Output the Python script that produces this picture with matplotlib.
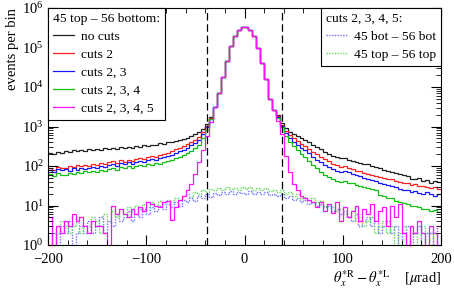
import numpy as np
import matplotlib
matplotlib.use("Agg")
import matplotlib.pyplot as plt
from matplotlib.ticker import MultipleLocator, LogLocator, NullFormatter

plt.rcParams['font.family'] = ['Liberation Serif', 'DejaVu Serif']
plt.rcParams['mathtext.fontset'] = 'stix'
plt.rcParams['font.size'] = 10

E = -np.inf  # empty bin (log10 of zero)

# bin edges (µrad); values below are log10(events per bin)
bin_edges = np.arange(-200, 201, 4)
cut_limit = 38

# shared core of the peak, bin centres -30 ... 30
peak = [3.50, 3.85, 4.25, 4.65, 5.03, 5.30, 5.45, 5.52,
        5.52, 5.45, 5.28, 5.00, 4.60, 4.20, 3.70, 3.42]

# left tails, bin centres -198 ... -34
black_left = [2.33, 2.30, 2.36, 2.34, 2.38, 2.35, 2.40, 2.37, 2.41, 2.38,
              2.42, 2.40, 2.43, 2.41, 2.45, 2.42, 2.46, 2.44, 2.47, 2.46,
              2.48, 2.46, 2.50, 2.49, 2.52, 2.51, 2.54, 2.53, 2.57, 2.56,
              2.60, 2.62, 2.64, 2.66, 2.69, 2.72, 2.76, 2.80, 2.86, 2.94,
              3.07, 3.25]
red_left = [1.95, 1.90, 1.98, 1.94, 1.96, 2.00, 1.97, 2.02, 1.99, 2.03,
            2.01, 2.05, 2.02, 2.07, 2.04, 2.09, 2.12, 2.08, 2.14, 2.11,
            2.16, 2.13, 2.18, 2.20, 2.17, 2.22, 2.25, 2.23, 2.28, 2.30,
            2.34, 2.38, 2.42, 2.46, 2.50, 2.55, 2.60, 2.66, 2.74, 2.85,
            3.02, 3.22]
blue_left = [1.90, 1.86, 1.93, 1.89, 1.92, 1.88, 1.94, 1.91, 1.96, 1.93,
             1.95, 1.98, 1.96, 2.00, 1.98, 2.02, 2.05, 2.01, 2.07, 2.04,
             2.09, 2.06, 2.11, 2.13, 2.10, 2.15, 2.18, 2.16, 2.20, 2.23,
             2.26, 2.29, 2.33, 2.37, 2.41, 2.46, 2.52, 2.58, 2.66, 2.80,
             2.98, 3.20]
green_left = [1.80, 1.75, 1.82, 1.78, 1.77, 1.83, 1.80, 1.85, 1.82, 1.87,
              1.84, 1.88, 1.86, 1.90, 1.88, 1.93, 1.95, 1.91, 1.97, 1.94,
              1.99, 1.96, 2.01, 2.03, 2.00, 2.05, 2.03, 2.08, 2.06, 2.10,
              2.13, 2.16, 2.20, 2.24, 2.28, 2.33, 2.39, 2.45, 2.54, 2.70,
              2.92, 3.18]
magenta_left = [0.70, E, 0.48, 0.30, 0.60, 0.48, 0.78, 0.60, 0.70, 0.48,
                0.30, 0.60, 0.48, 0.48, 0.30, E, 1.00, 0.78, 0.90, 0.78,
                0.70, 0.90, 0.78, 0.95, 0.85, 1.10, 1.05, 1.00, 0.95, 1.08,
                1.12, 0.63, 0.95, 1.14, 1.25, 1.38, 1.55, 1.80, 2.10, 2.40,
                2.75, 3.12]

# right tails, bin centres 34 ... 198
black_right = [3.28, 3.08, 2.95, 2.87, 2.80, 2.75, 2.70, 2.66, 2.60, 2.53,
               2.47, 2.42, 2.36, 2.30, 2.26, 2.24, 2.20, 2.19, 2.15, 2.13,
               2.10, 2.08, 2.04, 2.05, 2.00, 1.97, 1.95, 1.90, 1.88, 1.86,
               1.82, 1.80, 1.76, 1.75, 1.68, 1.66, 1.70, 1.62, 1.65, 1.58,
               1.63, 1.60]
red_right = [3.26, 3.04, 2.88, 2.78, 2.70, 2.63, 2.56, 2.50, 2.43, 2.36,
             2.30, 2.24, 2.18, 2.12, 2.06, 2.02, 1.98, 1.99, 1.95, 1.92,
             1.88, 1.87, 1.83, 1.80, 1.78, 1.74, 1.73, 1.70, 1.68, 1.66,
             1.62, 1.60, 1.58, 1.56, 1.52, 1.54, 1.49, 1.50, 1.46, 1.44,
             1.47, 1.43]
blue_right = [3.25, 3.02, 2.84, 2.72, 2.62, 2.54, 2.46, 2.40, 2.32, 2.24,
              2.16, 2.10, 2.03, 1.97, 1.92, 1.88, 1.86, 1.87, 1.84, 1.80,
              1.76, 1.74, 1.70, 1.68, 1.65, 1.62, 1.58, 1.55, 1.52, 1.50,
              1.46, 1.43, 1.40, 1.38, 1.35, 1.37, 1.32, 1.30, 1.33, 1.28,
              1.25, 1.28]
green_right = [3.22, 2.98, 2.76, 2.62, 2.50, 2.40, 2.30, 2.22, 2.12, 2.02,
               1.94, 1.86, 1.78, 1.72, 1.66, 1.62, 1.60, 1.62, 1.58, 1.56,
               1.52, 1.50, 1.47, 1.44, 1.42, 1.38, 1.27, 1.25, 1.20, 1.18,
               1.12, 1.10, 1.06, 1.05, 1.00, 0.98, 0.95, 0.92, 0.90, 0.85,
               0.88, 0.84]
magenta_right = [3.15, 2.80, 2.25, 1.85, 1.55, 1.38, 1.25, 1.18, 1.14, 1.10,
                 0.95, 1.08, 0.85, 1.05, 0.80, 1.08, 0.60, 0.95, 0.70, 0.85,
                 1.00, 0.60, 0.90, 0.78, 1.05, 0.60, 0.85, 0.95, 0.48, 1.00,
                 0.70, 1.05, 0.30, E, 0.48, 0.30, 0.60, 0.30, E, 0.48,
                 0.30, E]

# diagonal combinations (full range, bin centres -198 ... 198)
bot_bot = [E, 0.30, E, 0.48, 0.30, 0.60, E, 0.30, 0.48, 0.30,
           0.60, 0.30, 0.48, 0.70, 0.30, 0.60, 0.48, 0.78, 0.60, 0.70,
           0.85, 0.60, 0.78, 0.70, 0.90, 0.78, 0.95, 0.85, 1.00, 0.90,
           1.05, 0.95, 1.10, 1.00, 1.15, 1.08, 1.20, 1.12, 1.25, 1.18,
           1.28, 1.22, 1.32, 1.26, 1.34, 1.28, 1.36, 1.30, 1.35, 1.32,
           1.30, 1.36, 1.28, 1.34, 1.30, 1.33, 1.26, 1.30, 1.24, 1.28,
           1.20, 1.25, 1.15, 1.20, 1.10, 1.14, 1.05, 1.10, 1.00, 1.04,
           0.95, 1.00, 0.85, 0.92, 0.78, 0.85, 0.70, 0.60, 0.78, 0.48,
           0.60, 0.70, 0.48, 0.60, 0.30, 0.48, 0.60, 0.30, 0.48, E,
           0.30, 0.48, E, 0.30, 0.48, E, 0.30, 0.30, E, 0.48]
top_top = [0.48, E, 0.30, 0.60, 0.48, 0.30, 0.48, 0.70, 0.30, 0.48,
           0.48, 0.70, 0.60, 0.30, 0.78, 0.60, 0.85, 0.70, 0.90, 0.78,
           0.95, 0.85, 1.00, 0.90, 1.05, 0.95, 1.10, 1.00, 1.12, 1.05,
           1.15, 1.10, 1.20, 1.15, 1.25, 1.30, 1.22, 1.35, 1.28, 1.40,
           1.35, 1.42, 1.38, 1.45, 1.40, 1.48, 1.42, 1.45, 1.40, 1.46,
           1.42, 1.48, 1.40, 1.44, 1.38, 1.45, 1.36, 1.40, 1.34, 1.38,
           1.30, 1.34, 1.25, 1.28, 1.20, 1.22, 1.14, 1.18, 1.08, 1.12,
           1.00, 1.05, 0.95, 0.85, 0.90, 0.78, 0.70, 0.85, 0.60, 0.70,
           0.48, 0.60, 0.70, 0.30, 0.48, 0.60, 0.30, 0.48, E, 0.30,
           0.48, E, 0.30, 0.30, E, 0.48, E, 0.30, E, E]

main_labels = ["no cuts", "cuts 2", "cuts 2, 3", "cuts 2, 3, 4", "cuts 2, 3, 4, 5"]
main_colors = ["#202020", "#ff2020", "#1818ff", "#10c010", "#ff10ff"]
main_series = [black_left + peak + black_right,
               red_left + peak + red_right,
               blue_left + peak + blue_right,
               green_left + peak + green_right,
               magenta_left + peak + magenta_right]
diag_labels = ["45 bot \u2013 56 bot", "45 top \u2013 56 top"]
diag_colors = ["#7070ff", "#60d860"]
diag_series = [bot_bot, top_top]

fig = plt.figure(figsize=(4.54, 2.89), dpi=100)
ax = fig.add_axes([48/454, 1-245/289, (441-48)/454, (245-8)/289])
ax.set_yscale('log')

main_handles = []
for i, (vals, col, lab) in enumerate(zip(main_series, main_colors, main_labels)):
    if i == 4:
        continue
    h = ax.stairs(10.0**np.array(vals), bin_edges, color=col, lw=0.9, label=lab, baseline=None)
    main_handles.append(h)
diag_handles = []
for vals, col, lab in zip(diag_series, diag_colors, diag_labels):
    h = ax.stairs(10.0**np.array(vals), bin_edges, color=col, lw=1.0, ls=(0, (1, 1)), label=lab, baseline=None)
    diag_handles.append(h)
h = ax.stairs(10.0**np.array(main_series[4]), bin_edges, color=main_colors[4], lw=0.9,
              label=main_labels[4], baseline=None)
main_handles.append(h)

for c in (-cut_limit, cut_limit):
    ax.axvline(c, color='black', lw=0.9, ls=(0, (6, 3)))

ax.set_xlim(-200, 200)
ax.set_ylim(1, 1e6)
ax.xaxis.set_major_locator(MultipleLocator(100))
ax.xaxis.set_minor_locator(MultipleLocator(20))
ax.yaxis.set_major_locator(LogLocator(base=10, numticks=10))
ax.yaxis.set_minor_locator(LogLocator(base=10, subs=np.arange(2, 10), numticks=20))
ax.yaxis.set_minor_formatter(NullFormatter())
ax.tick_params(which='both', direction='in', top=True, right=True, labelsize=10.5)
ax.tick_params(axis='x', which='both', pad=6)
ax.tick_params(axis='y', which='both', pad=3)
ax.tick_params(which='major', length=7, width=0.8)
ax.tick_params(which='minor', length=3.5, width=0.6)
for s in ax.spines.values():
    s.set_linewidth(0.8)

ax.set_xlabel(r"$\theta_x^{*\mathrm{R}} - \theta_x^{*\mathrm{L}}$    [$\mu$rad]", loc='right', fontsize=10.5, labelpad=1)
ax.set_ylabel("events per bin", loc='top', fontsize=10.5, labelpad=2)

leg_kw = dict(frameon=True, fancybox=False, edgecolor='black', framealpha=1,
              borderaxespad=0, alignment='left', fontsize=9.7, title_fontsize=9.7,
              handlelength=1.6, handletextpad=0.5, labelspacing=0.42, borderpad=0.35)
leg1 = ax.legend(main_handles, main_labels, loc='upper left', title="45 top \u2013 56 bottom:", **leg_kw)
leg1.get_frame().set_linewidth(0.8)
ax.add_artist(leg1)
leg2 = ax.legend(diag_handles, diag_labels, loc='upper right', title="cuts 2, 3, 4, 5:", **leg_kw)
leg2.get_frame().set_linewidth(0.8)

fig.savefig("out.png", dpi=100)
